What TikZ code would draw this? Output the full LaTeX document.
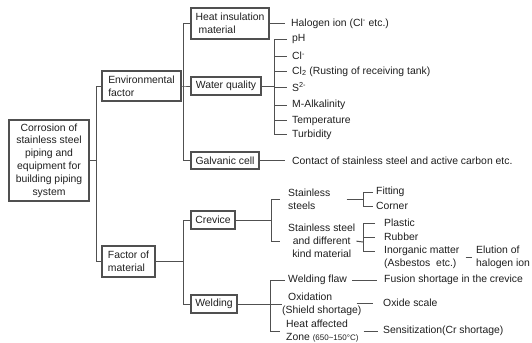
\documentclass[tikz,border=0pt]{standalone}
\usepackage{fontspec}
\setmainfont{Liberation Sans}
\definecolor{lc}{HTML}{505050}
\definecolor{tc}{HTML}{1E1E1E}
\begin{document}
\begin{tikzpicture}[x=1bp,y=-1bp,
  font=\fontsize{10.4bp}{12.8bp}\selectfont,
  box/.style={draw=lc, line width=1.3bp, inner sep=0pt, align=left, text=tc},
  lbl/.style={inner sep=0pt, anchor=west, align=left, text=tc},
  ln/.style={draw=lc, line width=1bp}]
\useasboundingbox (0,0) rectangle (532,342);
% boxes
\node[box, align=center, minimum width=80bp, minimum height=81bp] (root) at (49,160.5) {Corrosion of\\stainless steel\\piping and\\equipment for\\building piping\\system};
\node[box, minimum width=79bp, minimum height=30bp] (env) at (141.5,86) {Environmental\\factor};
\node[box, minimum width=53bp, minimum height=31bp] (mat) at (128.5,261.5) {Factor of\\material};
\node[box, minimum width=78bp, minimum height=31bp] (heat) at (230,23.5) {Heat insulation\\\hspace*{3bp}material};
\node[box, minimum width=70bp, minimum height=18bp] (water) at (226,86) {Water quality};
\node[box, minimum width=68bp, minimum height=17bp] (galv) at (225,160.5) {Galvanic cell};
\node[box, minimum width=44bp, minimum height=18bp] (crev) at (213,220) {Crevice};
\node[box, minimum width=46bp, minimum height=18bp] (weld) at (214,304) {Welding};
% trunk
\coordinate (t0) at (96,160.5);
\coordinate (t1) at (183,86);
\coordinate (t2) at (183,261.5);
\draw[ln] (root.east) -- (t0);
\draw[ln] (env.west) -- (t0|-env.west) -- (t0|-mat.west) -- (mat.west);
\draw[ln] (env.east) -- (t1) -- (water.west);
\draw[ln] (heat.west) -- (t1|-heat.west) -- (t1|-galv.west) -- (galv.west);
\draw[ln] (mat.east) -- (t2);
\draw[ln] (crev.west) -- (t2|-crev.west) -- (t2|-weld.west) -- (weld.west);
% heat insulation
\node[lbl] (halo) at (291,23.5) {Halogen ion (Cl\textsuperscript{-} etc.)};
\draw[ln, shorten >=6bp] (heat.east) -- (halo.west);
% water quality
\coordinate (wb) at (274,86);
\draw[ln] (water.east) -- (wb);
\node[lbl] (ph) at (292,39) {pH};
\node[lbl] (cl) at (292,56) {Cl\textsuperscript{-}};
\node[lbl] (cl2) at (292,71.5) {Cl\textsubscript{2} (Rusting of receiving tank)};
\node[lbl] (s2) at (292,87) {S\textsuperscript{2-}};
\node[lbl] (malk) at (292,105) {M-Alkalinity};
\node[lbl] (temp) at (292,120.5) {Temperature};
\node[lbl] (turb) at (292,134.5) {Turbidity};
\draw[ln, shorten <=5bp, shorten >=5bp] (ph.west) -- (wb|-ph.west) -- (wb|-turb.west) -- (turb.west);
\foreach \n in {cl,cl2,s2,malk,temp}{\draw[ln, shorten >=5bp] (wb|-\n.west) -- (\n.west);}
% galvanic
\node[lbl] (contact) at (292,160.5) {Contact of stainless steel and active carbon etc.};
\draw[ln, shorten >=7bp] (galv.east) -- (contact.west);
% crevice
\coordinate (cb) at (271,220);
\draw[ln] (crev.east) -- (cb);
\node[lbl] (ss) at (288,199) {Stainless\\steels};
\node[lbl, align=center] (ssd) at (288,241) {Stainless steel\\and different\\kind material};
\draw[ln, shorten <=8bp, shorten >=8bp] (ss.west) -- (cb|-ss.west) -- (cb|-ssd.west) -- (ssd.west);
\coordinate (sb) at (363,199);
\draw[ln, shorten <=16bp] (ss.east) -- (sb);
\node[lbl] (fit) at (376,192) {Fitting};
\node[lbl] (cor) at (376,206) {Corner};
\draw[ln, shorten <=3bp, shorten >=3bp] (fit.west) -- (sb|-fit.west) -- (sb|-cor.west) -- (cor.west);
\coordinate (db) at (363,242);
\draw[ln, shorten <=1bp] (ssd.east) -- (db);
\node[lbl] (pla) at (384,223) {Plastic};
\node[lbl] (rub) at (384,237) {Rubber};
\node[lbl] (ino) at (384,257.5) {Inorganic matter\\(Asbestos\ \ etc.)};
\coordinate (ino1) at ([yshift=6bp]ino.west);
\draw[ln, shorten <=9bp, shorten >=9bp] (pla.west) -- (db|-pla.west) -- (db|-ino1) -- (ino1);
\draw[ln, shorten >=9bp] (db|-rub.west) -- (rub.west);
\node[lbl] (elu) at (476,257.5) {Elution of\\halogen ion};
\draw[ln, shorten <=6bp, shorten >=4bp] (ino.east) -- (elu.west);
% welding
\coordinate (wdb) at (270,304);
\draw[ln] (weld.east) -- (wdb);
\node[lbl] (flaw) at (288,280) {Welding flaw};
\node[lbl] (oxi) at (282,304.5) {\hspace*{6bp}Oxidation\\(Shield shortage)};
\node[lbl] (haz) at (286,331) {Heat affected\\Zone {\fontsize{8bp}{9bp}\selectfont(650\textasciitilde150°C)}};
\draw[ln, shorten <=3bp, shorten >=6bp] (flaw.west) -- (wdb|-flaw.west) -- (wdb|-haz.west) -- (haz.west);
\draw[ln] (wdb|-oxi.west) -- (oxi.west);
\node[lbl] (fus) at (384,280) {Fusion shortage in the crevice};
\draw[ln, shorten <=5bp, shorten >=7bp] (flaw.east) -- (fus.west);
\node[lbl] (oxs) at (383,303) {Oxide scale};
\draw[ln, shorten <=-5bp, shorten >=10bp] (oxs.west -| oxi.east) -- (oxs.west);
\node[lbl] (sen) at (383,331) {Sensitization(Cr shortage)};
\draw[ln, shorten <=5bp, shorten >=5bp] (haz.east) -- (sen.west);
\end{tikzpicture}
\end{document}
